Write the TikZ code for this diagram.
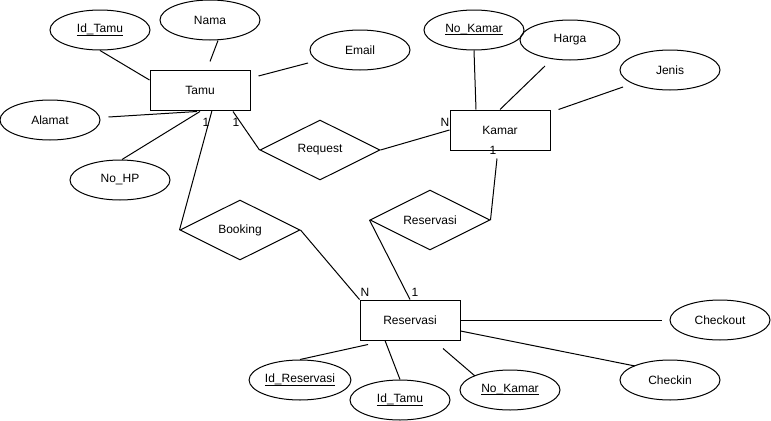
\documentclass[tikz,border=0pt]{standalone}
\usepackage{fontspec}
\setmainfont{Liberation Sans}
\usetikzlibrary{shapes.geometric,calc}

\tikzset{every picture/.style={line width=0.75pt}}
\tikzset{
  entity/.style={draw,rectangle,minimum width=75pt,minimum height=30pt,inner sep=0.75pt,font=\fontsize{9}{11}\selectfont},
  attrib/.style={draw,ellipse,minimum width=75pt,minimum height=30pt,inner sep=0.75pt,font=\fontsize{9}{11}\selectfont},
  relation/.style={draw,diamond,aspect=2,minimum width=90pt,minimum height=45pt,inner sep=0pt,font=\fontsize{9}{11}\selectfont},
  card/.style={inner sep=0.75pt,font=\fontsize{9}{11}\selectfont}
}
\newcommand{\keyattr}[2]{\underline{#1\smash{\_}#2}}

\begin{document}
\begin{tikzpicture}[x=0.75pt,y=0.75pt,yscale=-1,xscale=1]
\useasboundingbox (0,0) rectangle (771,421);

%Shape: Rectangle
\node [entity] (tamu) at (200,90) {Tamu};
\node [entity] (kamar) at (500,130) {Kamar};
\node [entity] (reservasi) at (410,320) {Reservasi};

%Shape: Diamond
\node [relation] (request) at (320,150) {Request};
\node [relation] (booking) at (240,230) {Booking};
\node [relation] (reservasirel) at (430,220) {Reservasi};

%Shape: Ellipse
\node [attrib] (idtamu) at (100,30) {\keyattr{Id}{Tamu}};
\node [attrib] (nama) at (210,20) {Nama};
\node [attrib] (email) at (360,50) {Email};
\node [attrib] (alamat) at (50,120) {Alamat};
\node [attrib] (nohp) at (120,180) {No\_HP};
\node [attrib] (nokamar) at (474,30) {\keyattr{No}{Kamar}};
\node [attrib] (harga) at (570,40) {Harga};
\node [attrib] (jenis) at (670,70) {Jenis};
\node [attrib] (checkout) at (720,320) {Checkout};
\node [attrib] (checkin) at (670,380) {Checkin};
\node [attrib] (idreservasi) at (300,380) {\keyattr{Id}{Reservasi}};
\node [attrib] (idtamures) at (400,400) {\keyattr{Id}{Tamu}};
\node [attrib] (nokamarres) at (510,390) {\keyattr{No}{Kamar}};

%Straight Lines
\draw (idtamu.south) -- ($(tamu.west)+(0,-10)$) ;
\draw ($(nama.south)+(8,0)$) -- ($(tamu.north)+(10,-8)$) ;
\draw ($(email)+(-52,13)$) -- ($(tamu.east)+(8,-14)$) ;
\draw ($(alamat.east)+(8,-3)$) -- ($(tamu.south)+(-3,1)$) ;
\draw ($(nohp.north)+(2,0)$) -- ($(tamu.south)+(0,1)$) ;
\draw ($(tamu.south)+(12,0)$) -- (booking.west) ;
\draw ($(tamu.south)+(33,1)$) -- (request.west) ;
\draw (request.east) -- (kamar.west) ;
\draw ($(kamar.south)+(-3,8)$) -- (reservasirel.east) ;
\draw (booking.east) -- (reservasi.north west) ;
\draw (reservasirel.west) -- (reservasi.north) ;
\draw (nokamar.south) -- ($(kamar.north)+(-24,0)$) ;
\draw ($(harga)+(-25,26)$) -- (kamar.north) ;
\draw ($(jenis)+(-47,17)$) -- ($(kamar.north east)+(8,0)$) ;
\draw (reservasi.east) -- ($(checkout.west)+(-8,0)$) ;
\draw ($(reservasi.east)+(0,11)$) -- ($(checkin)+(-35,-14)$) ;
\draw (idreservasi.north) -- ($(reservasi.south)+(-42,4)$) ;
\draw (idtamures.north) -- ($(reservasi.south)+(-25,0)$) ;
\draw ($(nokamarres)+(-35,-14)$) -- ($(reservasi.south)+(33,8)$) ;

% Text Node
\node [card] (ctamureq) at (206,122) {1};
\node [card] (ctamubook) at (236,122) {1};
\node [card] (ckamarreq) at (445,122) {N};
\node [card] (ckamarres) at (493,150) {1};
\node [card] (cresbook) at (365,292) {N};
\node [card] (creskamar) at (415,292) {1};

\end{tikzpicture}
\end{document}
